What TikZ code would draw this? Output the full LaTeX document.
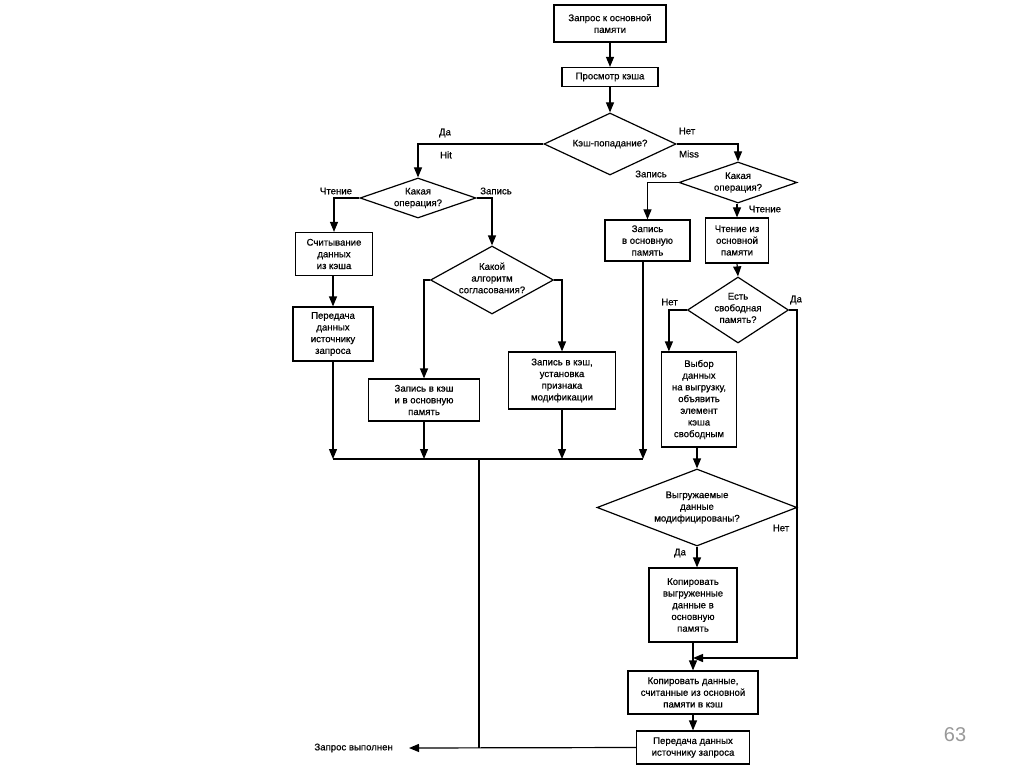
\documentclass[tikz,border=0pt]{standalone}
\usepackage{fontspec}
\setmainfont{Liberation Sans}[BoldFont={Liberation Sans},BoldFeatures={FakeBold=0.6}]
\usetikzlibrary{shapes.geometric,arrows.meta,calc}
\begin{document}
\begin{tikzpicture}[x=1pt,y=-1pt]
\tikzset{
  txt/.style={font=\fontsize{9.6}{11.7}\selectfont\bfseries},
  box/.style={draw, line width=1.2pt, inner sep=0pt, align=center, txt},
  dia/.style={draw, diamond, line width=1.2pt, inner sep=0pt},
  dtext/.style={align=center, inner sep=0pt, txt},
  lbl/.style={inner sep=0pt, txt},
  conn/.style={line width=1.2pt},
  arr/.style={conn, -{Triangle[length=10pt,width=8pt]}},
}
\useasboundingbox (0,0) rectangle (1024,767);
\fill[white] (0,0) rectangle (1024,767);

% boxes
\node[box, minimum width=112pt, minimum height=37pt] (b1) at (610,23.5) {Запрос к основной\\памяти};
\node[box, minimum width=96pt, minimum height=19pt] (b2) at (610,77) {Просмотр кэша};
\node[box, minimum width=77pt, minimum height=43pt] (b3) at (334,254) {Считывание\\данных\\из кэша};
\node[box, minimum width=80pt, minimum height=54pt] (b4) at (333,334) {Передача\\данных\\источнику\\запроса};
\node[box, minimum width=111pt, minimum height=42pt] (b5) at (424,400) {Запись в кэш\\и в основную\\память};
\node[box, minimum width=107pt, minimum height=57pt] (b6) at (562,380.5) {Запись в кэш,\\установка\\признака\\модификации};
\node[box, minimum width=85pt, minimum height=41pt] (b7) at (647.5,240.5) {Запись\\в основную\\память};
\node[box, minimum width=63pt, minimum height=45pt] (b8) at (737,240.5) {Чтение из\\основной\\памяти};
\node[box, minimum width=75pt, minimum height=95pt] (b9) at (699,399.5) {Выбор\\данных\\на выгрузку,\\объявить\\элемент\\кэша\\свободным};
\node[box, minimum width=88pt, minimum height=74pt] (b10) at (693,605) {Копировать\\выгруженные\\данные в\\основную\\память};
\node[box, minimum width=130pt, minimum height=43pt] (b11) at (693,692.5) {Копировать данные,\\считанные из основной\\памяти в кэш};
\node[box, minimum width=113pt, minimum height=33pt] (b12) at (693,747.5) {Передача данных\\источнику запроса};

% diamonds
\node[dia, minimum width=132pt, minimum height=62pt] (d1) at (610,144) {};
\node[dtext] (t1) at (d1) {Кэш-попадание?};
\node[dia, minimum width=116pt, minimum height=40pt] (d2) at (418,198) {};
\node[dtext] (t2) at (d2) {Какая\\операция?};
\node[dia, minimum width=118pt, minimum height=41pt] (d3) at (738,182.5) {};
\node[dtext] (t3) at (d3) {Какая\\операция?};
\node[dia, minimum width=123pt, minimum height=68pt] (d4) at (492,280) {};
\node[dtext] (t4) at ($(d4)+(0,-2)$) {Какой\\алгоритм\\согласования?};
\node[dia, minimum width=101pt, minimum height=66pt] (d5) at (738,310) {};
\node[dtext] (t5) at ($(d5)+(0,-2)$) {Есть\\свободная\\память?};
\node[dia, minimum width=200pt, minimum height=77pt] (d6) at (697,507.5) {};
\node[dtext] (t6) at (d6) {Выгружаемые\\данные\\модифицированы?};

% coordinates
\coordinate (mL) at (333,459);
\coordinate (mR) at (643,459);
\coordinate (mJ) at (479,459);
\coordinate (eJ) at (479,748);
\coordinate (done) at (409,748);
\coordinate (rc) at (797,658);

% connectors
\draw[arr] (b1) -- (b2);
\draw[arr] (b2) -- (d1);
\draw[arr] (d1.west) -| (d2.north);
\draw[arr] (d1.east) -| (d3.north);
\draw[arr] (d2.west) -| (b3.north);
\draw[arr] (d2.east) -| (d4.north);
\draw[arr] (b3.south -| b4.north) -- (b4.north);
\draw[arr] (d4.west) -| (b5.north);
\draw[arr] (d4.east) -| (b6.north);
\draw[arr] (d3.west) -| (b7.north);
\draw[arr] (d3.south -| b8.north) -- (b8.north);
\draw[arr] (b8.south) -- (d5.north);
\draw[arr] (d5.west) -| ($(b9.north west)+(8,0)$);
\draw[arr] (b9.south -| d6.north) -- (d6.north);
\draw[arr] (d6.south) -- (d6.south |- b10.north);
\draw[arr] (b10.south) -- (b11.north);
\draw[arr] (d5.east) -| (rc) -- (b10.south |- rc);
\draw[arr] (b11.south) -- (b12.north);

% merge line
\draw[conn] (mL) -- (mR);
\draw[arr] (b4.south) -- (b4.south |- mL);
\draw[arr] (b5.south) -- (b5.south |- mL);
\draw[arr] (b6.south) -- (b6.south |- mL);
\draw[arr] (b7.south -| mR) -- (mR);
\draw[conn] (mJ) -- (eJ);
\draw[arr] (b12.west) -- (done);

% labels
\node[lbl] (lda1) at (445,133) {Да};
\node[lbl] (lhit) at (446,155) {Hit};
\node[lbl] (lnet1) at (687,131) {Нет};
\node[lbl] (lmiss) at (689,154) {Miss};
\node[lbl] (lrd1) at (336,191) {Чтение};
\node[lbl] (lwr1) at (496,191) {Запись};
\node[lbl] (lwr2) at (651,174) {Запись};
\node[lbl] (lrd2) at (765,209) {Чтение};
\node[lbl] (lnet2) at (669.5,302) {Нет};
\node[lbl] (lda2) at (796,300) {Да};
\node[lbl] (lnet3) at (781,528) {Нет};
\node[lbl] (lda3) at (680,553) {Да};
\node[lbl, anchor=east] (ldone) at (393,748) {Запрос выполнен};
\node[inner sep=0pt, text=black!40, font=\fontsize{20}{24}\selectfont] (pg) at (955,735) {63};
\end{tikzpicture}
\end{document}
